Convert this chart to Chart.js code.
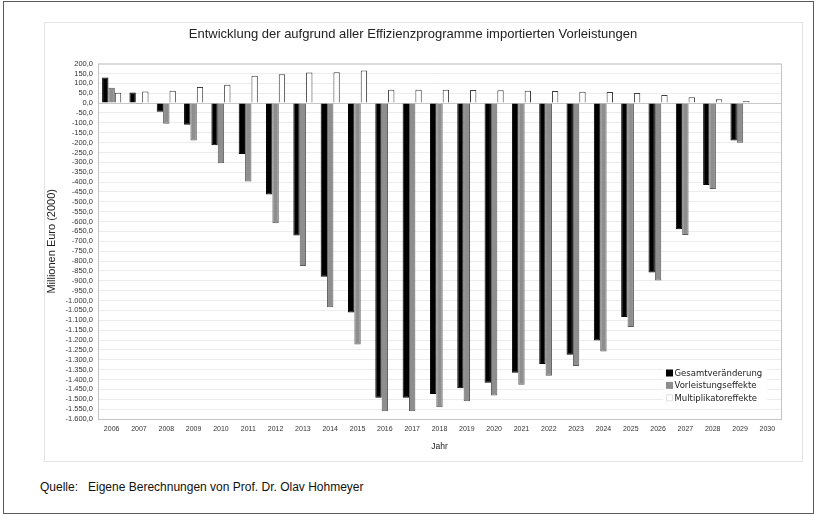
<!DOCTYPE html>
<html lang="de">
<head>
    <meta charset="UTF-8">
    <title>Importierte Vorleistungen</title>
    <script src="https://cdn.jsdelivr.net/npm/chart.js"></script>
    <style>
        body {
            margin: 0;
            background: #fff;
            font-family: 'Liberation Sans', Arial, sans-serif;
        }
        #frame {
            position: absolute;
            left: 3px; top: 1px;
            width: 809px; height: 511px;
            border: 1px solid #5a5a5a;
        }
        #panel {
            position: absolute;
            left: 44px; top: 22px;
            width: 757px; height: 438px;
            border: 1px solid #e4e4e4;
        }
        #quelle {
            position: absolute;
            left: 40px; top: 480px;
            font-size: 12px;
            color: #111;
            white-space: pre;
        }
    </style>
</head>
<body>
    <div id="frame"></div>
    <div id="panel">
        <canvas id="barChart"></canvas>
    </div>
    <div id="quelle">Quelle:   Eigene Berechnungen von Prof. Dr. Olav Hohmeyer</div>

    <script>
        // Daten (Millionen Euro, 2000)
        var jahre = ['2006','2007','2008','2009','2010','2011','2012','2013','2014','2015','2016','2017',
                     '2018','2019','2020','2021','2022','2023','2024','2025','2026','2027','2028','2029','2030'];
        var gesamtveraenderung = [130, 53, -44, -110, -214, -258, -463, -670, -880, -1060, -1493, -1493,
                                  -1473, -1444, -1416, -1366, -1322, -1275, -1203, -1084, -858, -639, -415, -190, null];
        var vorleistungseffekte = [78, -5, -105, -190, -305, -397, -608, -825, -1034, -1223, -1561, -1561,
                                   -1541, -1510, -1481, -1427, -1381, -1332, -1258, -1134, -898, -668, -435, -201, null];
        var multiplikatoreffekte = [52, 59, 63, 81, 93, 138, 146, 155, 156, 165, 68, 68,
                                    68, 66, 65, 63, 61, 58, 56, 51, 41, 29, 19, 10, null];

        // Zahlen im deutschen Format, z.B. -1.600,0
        function formatDe(v) {
            var s = Math.abs(v).toFixed(1).split('.');
            var intPart = s[0].replace(/\B(?=(\d{3})+(?!\d))/g, '.');
            return (v < 0 ? '-' : '') + intPart + ',' + s[1];
        }

        // Rahmen um die Zeichenfläche
        var plotBorder = {
            id: 'plotBorder',
            afterDraw: function(chart) {
                var a = chart.chartArea, ctx = chart.ctx;
                ctx.save();
                ctx.strokeStyle = '#c4c4c4';
                ctx.lineWidth = 1;
                ctx.strokeRect(a.left + 0.5, a.top + 0.5, a.right - a.left, a.bottom - a.top);
                ctx.restore();
            }
        };

        // Legende innerhalb der Zeichenfläche, unten rechts
        var innerLegend = {
            id: 'innerLegend',
            afterDraw: function(chart) {
                var a = chart.chartArea, ctx = chart.ctx;
                var x = a.right - 115, y = a.bottom - 46;
                ctx.save();
                ctx.fillStyle = '#fff';
                ctx.fillRect(x - 3, y - 6, 104, 37);
                ctx.font = '8.5px "DejaVu Sans"';
                ctx.textBaseline = 'middle';
                chart.data.datasets.forEach(function(ds, i) {
                    var yy = y + i * 12.4;
                    ctx.fillStyle = ds.backgroundColor;
                    ctx.fillRect(x, yy - 3.5, 7, 7);
                    if (ds.backgroundColor === '#ffffff') {
                        ctx.strokeStyle = '#e0e0e0';
                        ctx.strokeRect(x + 0.5, yy - 3, 6, 6);
                    }
                    ctx.fillStyle = '#222';
                    ctx.fillText(ds.label, x + 8.5, yy + 0.5);
                });
                ctx.restore();
            }
        };

        var ctx = document.getElementById('barChart').getContext('2d');
        var myChart = new Chart(ctx, {
            type: 'bar',
            data: {
                labels: jahre,
                datasets: [{
                    label: 'Gesamtveränderung',
                    data: gesamtveraenderung,
                    backgroundColor: '#000000',
                    borderColor: '#000000',
                    borderWidth: 1
                }, {
                    label: 'Vorleistungseffekte',
                    data: vorleistungseffekte,
                    backgroundColor: '#8e8e8e',
                    borderColor: '#5c5c5c',
                    borderWidth: 1
                }, {
                    label: 'Multiplikatoreffekte',
                    data: multiplikatoreffekte,
                    backgroundColor: '#ffffff',
                    borderColor: '#3c3c3c',
                    borderWidth: 1
                }]
            },
            options: {
                responsive: true,
                maintainAspectRatio: false,
                animation: false,
                layout: { padding: { left: 0, right: 21, top: 0, bottom: 9 } },
                datasets: { bar: { categoryPercentage: 0.7, barPercentage: 1.0 } },
                plugins: {
                    legend: { display: false },
                    tooltip: { enabled: false },
                    title: {
                        display: true,
                        text: 'Entwicklung der aufgrund aller Effizienzprogramme importierten Vorleistungen',
                        color: '#222',
                        font: { family: 'Liberation Sans', size: 13, weight: 'normal' },
                        padding: { top: 4, bottom: 21 }
                    }
                },
                scales: {
                    x: {
                        grid: { display: false, drawTicks: false },
                        border: { display: false },
                        ticks: {
                            color: '#333',
                            font: { family: 'Liberation Sans', size: 7 },
                            padding: 6,
                            maxRotation: 0,
                            autoSkip: false
                        },
                        title: {
                            display: true,
                            text: 'Jahr',
                            color: '#222',
                            font: { family: 'Liberation Sans', size: 8.5 },
                            padding: { top: 6, bottom: 0 }
                        },
                        afterFit: function(scale) { scale.height = 33; }
                    },
                    y: {
                        min: -1600,
                        max: 200,
                        grid: {
                            color: function(c) { return c.tick.value === 0 ? '#c8c8c8' : '#ececec'; },
                            drawTicks: false
                        },
                        border: { display: false },
                        ticks: {
                            stepSize: 50,
                            autoSkip: false,
                            color: '#333',
                            font: { family: 'Liberation Sans', size: 7.5 },
                            padding: 5,
                            callback: function(v) { return formatDe(v); }
                        },
                        title: {
                            display: true,
                            text: 'Millionen Euro (2000)',
                            color: '#222',
                            font: { family: 'Liberation Sans', size: 11 },
                            padding: 0
                        },
                        afterFit: function(scale) { scale.width = 53; }
                    }
                }
            },
            plugins: [plotBorder, innerLegend]
        });
    </script>
</body>
</html>
